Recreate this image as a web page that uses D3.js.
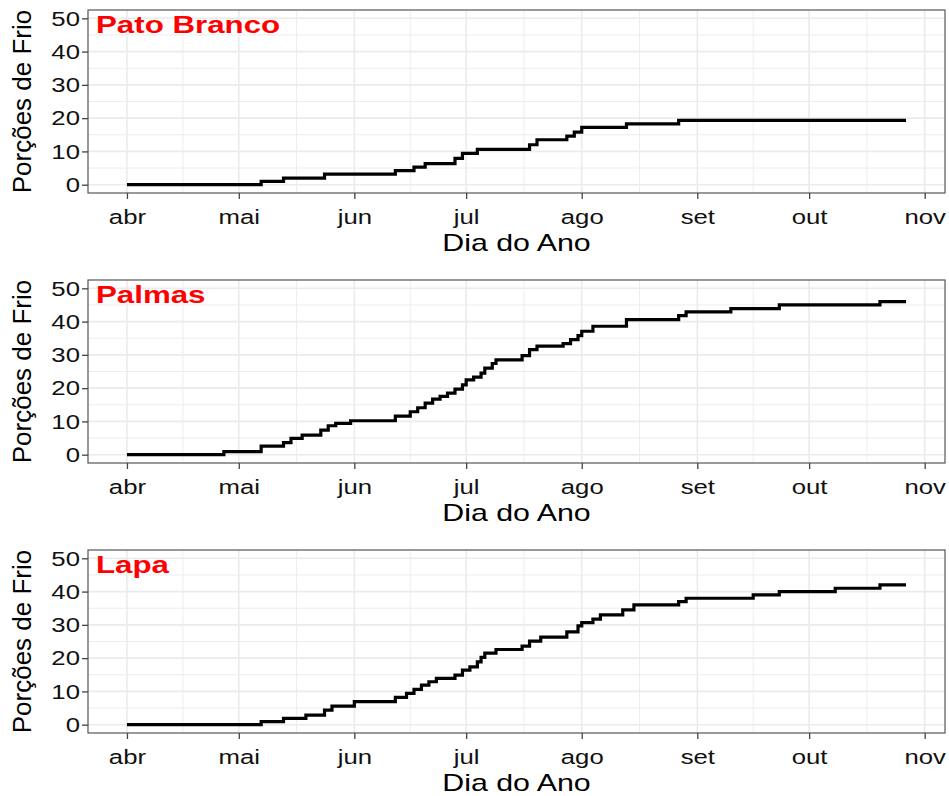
<!DOCTYPE html>
<html>
<head>
<meta charset="utf-8">
<script src="https://cdn.jsdelivr.net/npm/d3@7"></script>
<style>
  body { margin: 0; background: #fff; }
  text { font-family: "Liberation Sans", Arial, Helvetica, sans-serif; }
</style>
</head>
<body>
<svg id="chart" width="949" height="796"></svg>
<script>
// Accumulated chill portions (Dynamic Model), April to October.
// Each series lists the dates where the running total changes and the new total.
const stations = ["Pato Branco", "Palmas", "Lapa"];
const monthLabels = ["abr", "mai", "jun", "jul", "ago", "set", "out", "nov"];
const yTickValues = [0, 10, 20, 30, 40, 50];

const patoBrancoDates = ["04-01", "05-07", "05-13", "05-24", "06-12", "06-17", "06-20", "06-28", "06-30",
  "07-04", "07-18", "07-20", "07-28", "07-30", "08-01", "08-13", "08-27", "10-27"];
const patoBrancoPortions = [0, 1.0, 2.0, 3.2, 4.2, 5.3, 6.3, 7.9, 9.4,
  10.6, 12.0, 13.5, 14.6, 15.8, 17.2, 18.3, 19.3, 19.3];

const palmasDates = ["04-01", "04-27", "05-07", "05-13", "05-15", "05-18", "05-23", "05-25", "05-27", "05-31",
  "06-12", "06-16", "06-18", "06-20", "06-22", "06-24", "06-26", "06-28", "06-30", "07-01", "07-03", "07-05",
  "07-06", "07-08", "07-09", "07-16", "07-18", "07-20", "07-27", "07-29", "07-31", "08-01", "08-04", "08-13",
  "08-27", "08-29", "09-10", "09-23", "10-20", "10-27"];
const palmasPortions = [0, 0.9, 2.6, 3.6, 4.9, 5.9, 7.4, 8.7, 9.4, 10.2,
  11.6, 12.9, 14.1, 15.5, 16.7, 17.5, 18.5, 19.7, 21.0, 22.5, 23.3, 24.5,
  26.0, 27.4, 28.5, 29.8, 31.6, 32.6, 33.4, 34.6, 35.8, 37.1, 38.6, 40.6,
  41.8, 42.9, 43.9, 45.0, 46.0, 46.0];

const lapaDates = ["04-01", "05-07", "05-13", "05-19", "05-24", "05-26", "06-01", "06-12", "06-15", "06-17",
  "06-19", "06-21", "06-23", "06-28", "06-30", "07-02", "07-04", "07-05", "07-06", "07-09", "07-16", "07-18",
  "07-21", "07-28", "07-31", "08-01", "08-04", "08-06", "08-12", "08-15", "08-27", "08-29", "09-16", "09-23",
  "10-08", "10-20", "10-27"];
const lapaPortions = [0, 0.9, 1.9, 2.9, 4.4, 5.6, 6.9, 8.2, 9.4, 10.6,
  11.9, 12.9, 13.9, 14.9, 16.4, 17.4, 18.9, 20.2, 21.5, 22.6, 23.6, 25.1,
  26.3, 27.9, 29.7, 30.7, 31.7, 33.0, 34.5, 36.0, 37.0, 38.0, 39.0, 40.0,
  41.0, 42.0, 42.0];

const seriesDates = [patoBrancoDates, palmasDates, lapaDates];
const seriesPortions = [patoBrancoPortions, palmasPortions, lapaPortions];

const year = 2019;
const parseDay = d3.timeParse("%Y-%m-%d");
const toDate = s => parseDay(year + "-" + s);

// Layout
const plotLeft = 88, plotRight = 945;
const panelTops = [10, 280, 550];
const panelHeight = 183;
const textStretch = 1.32;

const svg = d3.select("#chart");
svg.append("rect").attr("width", 949).attr("height", 796).attr("fill", "#fff");

const firstDay = toDate("04-01");
const lastDay = toDate("10-27");
const pad = (lastDay - firstDay) * 0.05;
const x = d3.scaleTime()
  .domain([new Date(+firstDay - pad), new Date(+lastDay + pad)])
  .range([plotLeft, plotRight]);

const monthStarts = d3.timeMonths(toDate("04-01"), toDate("11-02"));
const minorX = [];
for (let i = 0; i < monthStarts.length - 1; i++) {
  minorX.push(new Date((+monthStarts[i] + +monthStarts[i + 1]) / 2));
}
const minorY = [5, 15, 25, 35, 45];

stations.forEach((name, i) => {
  const top = panelTops[i];
  const y = d3.scaleLinear().domain([-2.5, 52.5]).range([top + panelHeight, top]);
  const g = svg.append("g");

  // grid
  const grid = g.append("g").attr("stroke", "#ebebeb").attr("fill", "none");
  grid.selectAll(".mx").data(minorX).join("line")
    .attr("x1", d => x(d)).attr("x2", d => x(d))
    .attr("y1", top).attr("y2", top + panelHeight).attr("stroke-width", 0.9);
  grid.selectAll(".my").data(minorY).join("line")
    .attr("x1", plotLeft).attr("x2", plotRight)
    .attr("y1", d => y(d)).attr("y2", d => y(d)).attr("stroke-width", 0.9);
  grid.selectAll(".Mx").data(monthStarts).join("line")
    .attr("x1", d => x(d)).attr("x2", d => x(d))
    .attr("y1", top).attr("y2", top + panelHeight).attr("stroke-width", 1.6);
  grid.selectAll(".My").data(yTickValues).join("line")
    .attr("x1", plotLeft).attr("x2", plotRight)
    .attr("y1", d => y(d)).attr("y2", d => y(d)).attr("stroke-width", 1.6);

  // step line
  const pts = seriesDates[i].map((d, k) => ({ date: toDate(d), value: seriesPortions[i][k] }));
  const line = d3.line().x(d => x(d.date)).y(d => y(d.value)).curve(d3.curveStepAfter);
  g.append("path").datum(pts).attr("d", line)
    .attr("fill", "none").attr("stroke", "#000").attr("stroke-width", 3.2);

  // panel border
  g.append("rect").attr("x", plotLeft).attr("y", top)
    .attr("width", plotRight - plotLeft).attr("height", panelHeight)
    .attr("fill", "none").attr("stroke", "#555").attr("stroke-width", 1.2);

  // axes
  const yAxis = g.append("g").attr("transform", `translate(${plotLeft},0)`)
    .call(d3.axisLeft(y).tickValues(yTickValues).tickSize(6).tickPadding(4));
  const xAxis = g.append("g").attr("transform", `translate(0,${top + panelHeight})`)
    .call(d3.axisBottom(x).tickValues(monthStarts).tickSize(6)
      .tickFormat((d, k) => monthLabels[k]));
  [yAxis, xAxis].forEach(a => {
    a.select(".domain").remove();
    a.selectAll(".tick line").attr("stroke", "#444").attr("stroke-width", 1.3);
    a.selectAll(".tick text").attr("fill", "#111").style("font-size", "19.5px");
  });
  yAxis.selectAll(".tick text").attr("dy", "0.35em")
    .attr("transform", `scale(${textStretch},1)`).attr("x", -8 / textStretch);
  xAxis.selectAll(".tick text").attr("y", 0).attr("dy", 0)
    .attr("transform", `translate(0,31) scale(${textStretch},1)`);

  // station label
  g.append("text")
    .attr("transform", `translate(96,${top + 23}) scale(1.36,1)`)
    .attr("fill", "#ff0000").style("font-size", "23px").style("font-weight", "bold")
    .text(name);

  // axis titles
  g.append("text")
    .attr("transform", `translate(${(plotLeft + plotRight) / 2},${top + panelHeight + 58}) scale(${textStretch},1)`)
    .attr("text-anchor", "middle").attr("fill", "#000").style("font-size", "23px")
    .text("Dia do Ano");
  g.append("text")
    .attr("transform", `translate(31,${top + panelHeight / 2}) rotate(-90)`)
    .attr("text-anchor", "middle").attr("fill", "#000").style("font-size", "26px")
    .text("Porções de Frio");
});
</script>
</body>
</html>
